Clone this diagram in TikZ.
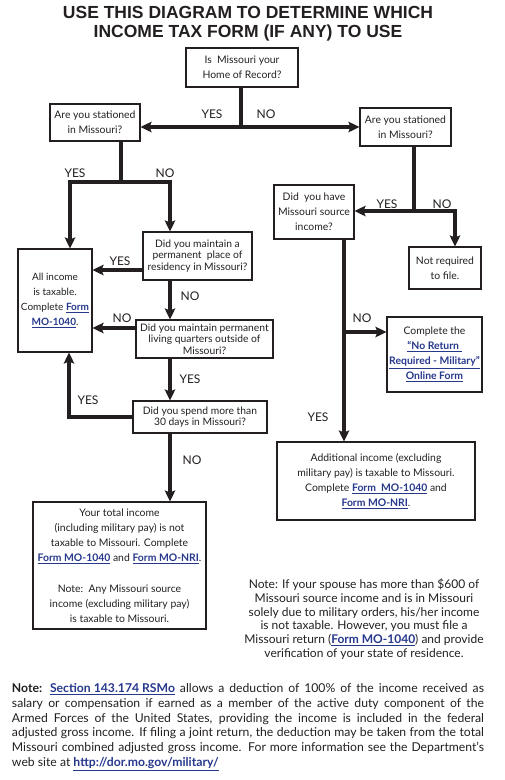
\documentclass[tikz,border=0pt]{standalone}
\usepackage{fontspec}
\setmainfont{Lato}
\newfontfamily\titlefont{Liberation Sans}
\usetikzlibrary{arrows.meta}
\definecolor{ink}{RGB}{35,31,32}
\definecolor{linkblue}{RGB}{38,56,140}
\newcommand\lnk[1]{\textcolor{linkblue}{\bfseries\underline{#1}}}
\begin{document}
\begin{tikzpicture}[x=1pt,y=-1pt,
 box/.style={draw=ink, line width=1.1pt, align=center, inner sep=0pt, text=ink, font=\fontsize{10.4}{15}\selectfont},
 tight/.style={font=\fontsize{10.3}{11.3}\selectfont},
 arr/.style={line width=3.5pt, draw=ink, -{Stealth[length=11pt,width=10.5pt,inset=2pt]}},
 stem/.style={line width=3.5pt, draw=ink},
 lbl/.style={text=ink, font=\fontsize{12}{12}\selectfont, inner sep=0pt},
 ttl/.style={text=ink, font=\titlefont\bfseries\fontsize{17.5}{17.5}\selectfont, inner sep=0pt}]
\useasboundingbox (0,0) rectangle (504,780);

\node[ttl] (t1) at (248,12.5) {USE THIS DIAGRAM TO DETERMINE WHICH};
\node[ttl] (t2) at (248,32.5) {INCOME TAX FORM (IF ANY) TO USE};

\node[box, minimum width=112, minimum height=39] (top) at (242,67.5) {Is\ \ Missouri your\\Home of Record?};
\node[box, minimum width=90, minimum height=37] (L1) at (95,122.5) {Are you stationed\\in Missouri?};
\node[box, minimum width=91, minimum height=38] (R1) at (405.5,127) {Are you stationed\\in Missouri?};
\node[box, tight, minimum width=109, minimum height=48] (Lperm) at (197.5,256) {Did you maintain a\\permanent\ \ place of\\residency in Missouri?};
\node[box, font=\fontsize{10}{15}\selectfont, minimum width=74, minimum height=103] (All) at (55,300.5) {All income\\is taxable.\\Complete \lnk{Form}\\\lnk{MO-1040}.};
\node[box, tight, minimum width=137, minimum height=38] (Lq) at (204.5,339) {Did you maintain permanent\\living quarters outside of\\Missouri?};
\node[box, tight, minimum width=134, minimum height=32] (D30) at (200,417) {Did you spend more than\\30 days in Missouri?};
\node[box, minimum width=173, minimum height=127] (Tot) at (119.5,565.5) {Your total income\\(including military pay) is not\\taxable to Missouri. Complete\\\lnk{Form MO-1040} and \lnk{Form MO-NRI}.\\[16pt]Note:\ \ Any Missouri source\\income (excluding military pay)\\is taxable to Missouri.};
\node[box, minimum width=80, minimum height=54] (Src) at (314,212) {Did\ \ you have\\Missouri source\\income?};
\node[box, minimum width=72, minimum height=42] (NR) at (445,268) {Not required\\to file.};
\node[box, minimum width=95, minimum height=75] (NoRet) at (434.5,354.5) {Complete the\\\lnk{“No Return\ }\\\lnk{Required - Military”}\\\lnk{Online Form}};
\node[box, minimum width=198, minimum height=78] (Add) at (376,481) {Additional income (excluding\\military pay) is taxable to Missouri.\\Complete \lnk{Form\ \ MO-1040} and\\\lnk{Form MO-NRI}.};

\node[text=ink, align=center, inner sep=0pt, font=\fontsize{12}{13.7}\selectfont] (note1) at (364,619) {Note: If your spouse has more than \$600 of\\Missouri source income and is in Missouri\\solely due to military orders, his/her income\\is not taxable. However, you must file a\\Missouri return (\lnk{Form MO-1040}) and provide\\verification of your state of residence.};

\node[text=ink, text width=472pt, align=justify, inner sep=0pt, font=\fontsize{12.2}{14.8}\selectfont] (note2) at (248,727) {\textbf{Note:} \lnk{Section 143.174 RSMo} allows a deduction of 100\% of the income received as\linebreak salary or compensation if earned as a member of the active duty component of the\linebreak Armed Forces of the United States, providing the income is included in the federal\linebreak adjusted gross income. If filing a joint return, the deduction may be taken from the total\linebreak Missouri combined adjusted gross income. For more information see the Department’s\linebreak web site at \lnk{http://dor.mo.gov/military/}};

% helper coordinates
\coordinate (j1) at (241,127);
\coordinate (j2) at (121,182);
\coordinate (j3) at (414,211);
\coordinate (j4) at (344,332);
\coordinate (c70) at (70,0);
\coordinate (c69) at (69,0);
\coordinate (c170) at (170,0);
\coordinate (c455) at (455,0);
\coordinate (y270) at (0,270);
\coordinate (y328) at (0,328);
\coordinate (y417) at (0,417);

% connectors
\draw[stem] (top.south -| j1) -- (j1);
\draw[arr] (j1) -- (L1.east |- j1);
\draw[arr] (j1) -- (R1.west |- j1);

\draw[stem] (L1.south -| j2) -- (j2);
\draw[arr] (j2) -| (All.north -| c70);
\draw[arr] (j2) -| (Lperm.north -| c170);

\draw[arr] (Lperm.west |- y270) -- (All.east |- y270);
\draw[arr] (Lperm.south -| c170) -- (Lq.north -| c170);
\draw[arr] (Lq.west |- y328) -- (All.east |- y328);
\draw[arr] (Lq.south -| c170) -- (D30.north -| c170);
\draw[arr] (D30.west |- y417) -| (All.south -| c69);
\draw[arr] (D30.south -| c170) -- (Tot.north -| c170);

\draw[stem] (R1.south -| j3) -- (j3);
\draw[arr] (j3) -- (Src.east |- j3);
\draw[arr] (j3) -| (NR.north -| c455);

\draw[arr] (Src.south -| j4) -- (Add.north -| j4);
\draw[arr] (j4) -- (NoRet.west |- j4);

% labels
\node[lbl] (l1) at (212,114) {YES};
\node[lbl] (l2) at (266,114) {NO};
\node[lbl] (l3) at (75,173) {YES};
\node[lbl] (l4) at (165,173) {NO};
\node[lbl] (l5) at (120,261) {YES};
\node[lbl] (l6) at (190,296) {NO};
\node[lbl] (l7) at (122,318) {NO};
\node[lbl] (l8) at (190,379) {YES};
\node[lbl] (l9) at (88,400) {YES};
\node[lbl] (l10) at (192,460) {NO};
\node[lbl] (l11) at (387,204) {YES};
\node[lbl] (l12) at (442,204) {NO};
\node[lbl] (l13) at (362,318) {NO};
\node[lbl] (l14) at (318,417) {YES};
\end{tikzpicture}
\end{document}
